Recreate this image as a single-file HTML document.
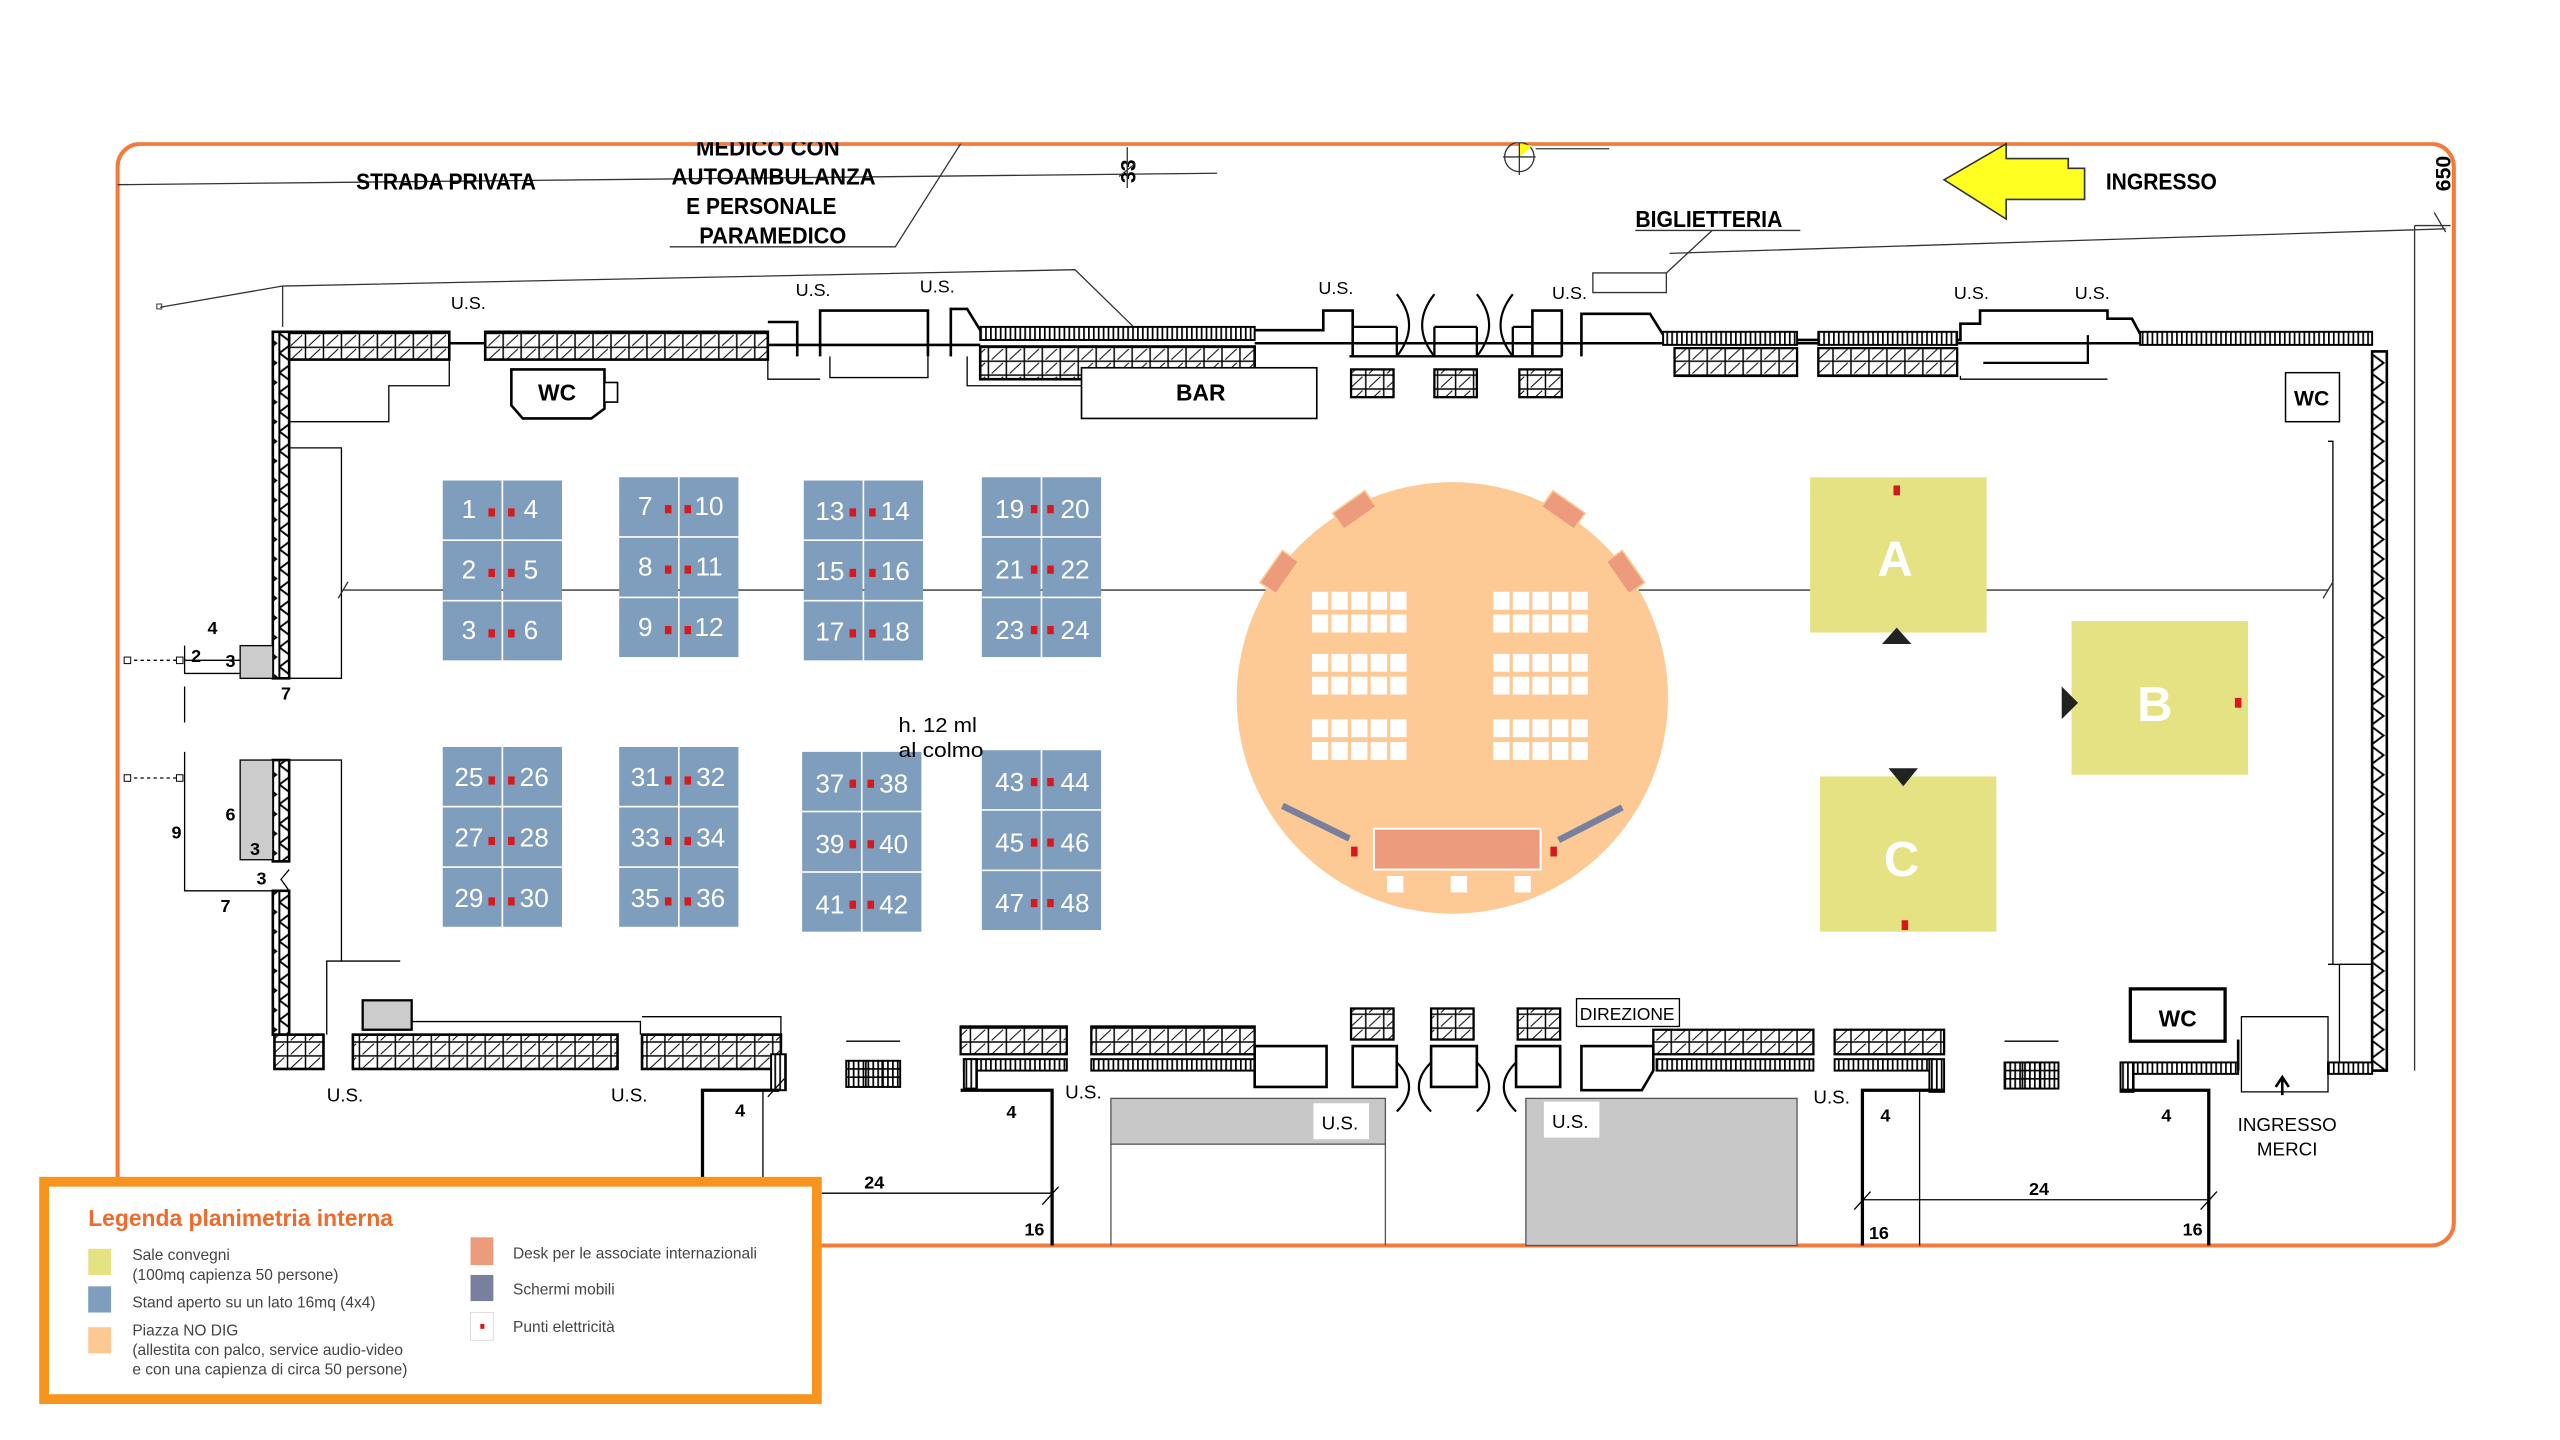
<!DOCTYPE html>
<html><head><meta charset="utf-8"><style>
html,body{margin:0;padding:0;background:#fff;width:2560px;height:1440px;overflow:hidden}
svg{display:block}
.t{font-family:"Liberation Sans",sans-serif;fill:#000}
.b{font-weight:bold}
.lg{font-family:"Liberation Sans",sans-serif;fill:#444;font-size:9.5px}
</style></head><body>
<svg width="2560" height="1440" viewBox="0 0 1567 881" preserveAspectRatio="none" xmlns="http://www.w3.org/2000/svg">
<defs>
<pattern id="h" width="11" height="8.5" patternUnits="userSpaceOnUse"><rect width="11" height="8.5" fill="#fff" stroke="#000" stroke-width="0.9"/><path d="M2 7.5L9 1" stroke="#000" stroke-width="0.6"/></pattern>
<pattern id="v" width="10" height="12" patternUnits="userSpaceOnUse"><rect width="10" height="12" fill="#fff"/><path d="M1 0L9 6L1 12M1 0V12" stroke="#000" stroke-width="1.2" fill="none"/></pattern>
<pattern id="c" width="3" height="10" patternUnits="userSpaceOnUse"><rect width="3" height="10" fill="#fff"/><path d="M0.5 0V10" stroke="#000" stroke-width="1.1"/></pattern>
<pattern id="s" width="12" height="14" patternUnits="userSpaceOnUse"><rect width="10" height="11" fill="#fff"/></pattern>
</defs>

<rect x="72" y="88" width="1430" height="674" rx="14" fill="none" stroke="#f47a3c" stroke-width="2.5"/>

<path d="M72 113L745 106" stroke="#333" stroke-width="0.8"/>
<text class="t b" x="218" y="116" font-size="14" textLength="110" lengthAdjust="spacingAndGlyphs">STRADA PRIVATA</text>
<text class="t b" x="426" y="95" font-size="14" textLength="88" lengthAdjust="spacingAndGlyphs">MEDICO CON</text>
<text class="t b" x="411" y="113" font-size="14" textLength="125" lengthAdjust="spacingAndGlyphs">AUTOAMBULANZA</text>
<text class="t b" x="420" y="131" font-size="14" textLength="92" lengthAdjust="spacingAndGlyphs">E PERSONALE</text>
<text class="t b" x="428" y="149" font-size="14" textLength="90" lengthAdjust="spacingAndGlyphs">PARAMEDICO</text>
<path d="M410 151H548L588 88" stroke="#333" stroke-width="0.8" fill="none"/>
<text class="t b" x="0" y="0" font-size="13" transform="translate(695,112) rotate(-90)">33</text>
<path d="M690 90V115M685 108L695 100" stroke="#333" stroke-width="0.8"/>
<circle cx="930" cy="96" r="9" fill="none" stroke="#333" stroke-width="0.8"/>
<path d="M930 96L938 89L930 88Z" fill="#ff0"/>
<path d="M920 96H940M930 86V107M940 91H985" stroke="#333" stroke-width="0.8"/>
<rect x="72" y="84" width="1430" height="3" fill="#fff"/>
<text class="t b" x="1001" y="139" font-size="14" textLength="90" lengthAdjust="spacingAndGlyphs">BIGLIETTERIA</text>
<path d="M1001 141H1102M1048 141L1020 167M975 167H1020V179H975Z" stroke="#333" stroke-width="0.8" fill="none"/>
<path d="M1190 110L1228 88V97H1266V103H1276V122H1228V134Z" fill="#ffff22" stroke="#333" stroke-width="1"/>
<text class="t b" x="1289" y="116" font-size="14" textLength="68" lengthAdjust="spacingAndGlyphs">INGRESSO</text>
<text class="t b" x="0" y="0" font-size="13" transform="translate(1500,117) rotate(-90)">650</text>
<path d="M1022 155L1497 140M1478 138V655M1478 138H1500M1490 130L1497 142" stroke="#333" stroke-width="0.8" fill="none"/>

<path d="M98 188L173 175L658 165L697 203M173 175V200" stroke="#333" stroke-width="0.8" fill="none"/>
<rect x="96" y="186" width="3" height="3" fill="none" stroke="#333" stroke-width="0.6"/>

<!-- top wall -->
<g stroke="#000" fill="none" stroke-width="1.6">
<path d="M470 197H488V218M502 218V190H568V218M582 218V189H592L600 202H810V190H828V218M938 218V190H956V218M968 218V192H1010L1020 208H1200V198H1212V190H1290V195H1305L1312 208H1452"/>
<path d="M275 210H297M470 211H600M768 210H1025M1100 210H1113M1198 210H1310"/>
<path d="M828 200H855M878 200H904M926 200H938M855 218V200M878 218V200M904 218V200M926 218V200M826 218H956M1214 222H1278V205" stroke-width="1.4"/>
<path d="M855 180Q870 199 855 218M878 180Q863 199 878 218M904 180Q919 199 904 218M926 180Q911 199 926 218" stroke-width="1.3"/>
</g>
<rect x="168" y="203" width="107" height="17" fill="url(#h)" stroke="#000" stroke-width="1.6"/>
<rect x="297" y="203" width="173" height="17" fill="url(#h)" stroke="#000" stroke-width="1.6"/>
<rect x="600" y="200" width="168" height="8" fill="url(#c)" stroke="#000" stroke-width="1.2"/>
<rect x="600" y="212" width="168" height="20" fill="url(#h)" stroke="#000" stroke-width="1.6"/>
<rect x="1018" y="203" width="82" height="8" fill="url(#c)" stroke="#000" stroke-width="1.2"/>
<rect x="1025" y="213" width="75" height="17" fill="url(#h)" stroke="#000" stroke-width="1.4"/>
<rect x="1113" y="203" width="85" height="8" fill="url(#c)" stroke="#000" stroke-width="1.2"/>
<rect x="1113" y="213" width="85" height="17" fill="url(#h)" stroke="#000" stroke-width="1.4"/>
<rect x="1310" y="203" width="142" height="8" fill="url(#c)" stroke="#000" stroke-width="1.2"/>
<rect x="827" y="226" width="26" height="17" fill="url(#h)" stroke="#000" stroke-width="1.4"/>
<rect x="878" y="226" width="26" height="17" fill="url(#h)" stroke="#000" stroke-width="1.4"/>
<rect x="930" y="226" width="26" height="17" fill="url(#h)" stroke="#000" stroke-width="1.4"/>
<path d="M177 220V258H238V236H275V220M470 220V232H502M508 218V231H568V218M592 218V236H662M1200 230V232H1290" stroke="#000" stroke-width="0.8" fill="none"/>
<path d="M313 226H370V250L362 256H320L313 248Z" fill="#fff" stroke="#000" stroke-width="1.6"/>
<rect x="370" y="234" width="8" height="12" fill="#fff" stroke="#000" stroke-width="1"/>
<text class="t b" x="341" y="245" font-size="14" text-anchor="middle">WC</text>
<rect x="662" y="225" width="144" height="31" fill="#fff" stroke="#000" stroke-width="1"/>
<text class="t b" x="735" y="245" font-size="14" text-anchor="middle">BAR</text>
<rect x="1399" y="228" width="33" height="30" fill="#fff" stroke="#000" stroke-width="0.9"/>
<text class="t b" x="1415" y="248" font-size="13" text-anchor="middle">WC</text>
<g class="t" font-size="11">
<text x="276" y="189">U.S.</text><text x="487" y="181">U.S.</text><text x="563" y="179">U.S.</text>
<text x="807" y="180">U.S.</text><text x="950" y="183">U.S.</text><text x="1196" y="183">U.S.</text><text x="1270" y="183">U.S.</text>
</g>

<!-- left wall -->
<rect x="167" y="203" width="10" height="212" fill="url(#v)" stroke="#000" stroke-width="1.6"/>
<rect x="167" y="465" width="10" height="62" fill="url(#v)" stroke="#000" stroke-width="1.6"/>
<rect x="167" y="545" width="10" height="88" fill="url(#v)" stroke="#000" stroke-width="1.6"/>
<path d="M177 274H209V415H177M177 465H209V588H200V633M209 588H245M113 404V412H147M113 420V442M113 460V545H167M147 415H177" stroke="#000" stroke-width="0.8" fill="none"/>
<path d="M113 395V404H147V395M177 532L172 538L177 545" stroke="#000" stroke-width="0.8" fill="none"/>
<path d="M78 404H110M78 476H110" stroke="#000" stroke-width="0.8" stroke-dasharray="2 2"/>
<rect x="76" y="402" width="4" height="4" fill="#fff" stroke="#000" stroke-width="0.6"/><rect x="108" y="402" width="4" height="4" fill="#fff" stroke="#000" stroke-width="0.6"/>
<rect x="76" y="474" width="4" height="4" fill="#fff" stroke="#000" stroke-width="0.6"/><rect x="108" y="474" width="4" height="4" fill="#fff" stroke="#000" stroke-width="0.6"/>
<rect x="147" y="395" width="20" height="20" fill="#ccc" stroke="#000" stroke-width="0.8"/>
<rect x="147" y="465" width="20" height="61" fill="#ccc" stroke="#000" stroke-width="0.8"/>
<rect x="222" y="612" width="30" height="18" fill="#ccc" stroke="#000" stroke-width="1.4"/>
<g class="t b" font-size="11">
<text x="127" y="388">4</text><text x="117" y="405">2</text><text x="138" y="408">3</text><text x="172" y="428">7</text>
<text x="138" y="502">6</text><text x="105" y="513">9</text><text x="153" y="523">3</text><text x="157" y="541">3</text><text x="135" y="558">7</text>
</g>

<!-- right wall -->
<rect x="1452" y="215" width="9" height="440" fill="url(#v)" stroke="#000" stroke-width="1.6"/>
<path d="M1425 270H1428V590H1425M1432 655V590H1452" stroke="#000" stroke-width="0.8" fill="none"/>

<path d="M210 361H1425" stroke="#333" stroke-width="0.9"/>
<path d="M207 366L213 356M1422 366L1428 356" stroke="#333" stroke-width="0.8"/>

<!-- bottom wall -->
<rect x="168" y="633" width="30" height="21" fill="url(#h)" stroke="#000" stroke-width="1.6"/>
<rect x="216" y="633" width="162" height="21" fill="url(#h)" stroke="#000" stroke-width="1.6"/>
<rect x="393" y="633" width="85" height="21" fill="url(#h)" stroke="#000" stroke-width="1.6"/>
<rect x="472" y="645" width="9" height="22" fill="url(#c)" stroke="#000" stroke-width="1.2"/>
<rect x="588" y="628" width="65" height="17" fill="url(#h)" stroke="#000" stroke-width="1.4"/>
<rect x="590" y="648" width="63" height="7" fill="url(#c)" stroke="#000" stroke-width="1.2"/>
<rect x="590" y="648" width="8" height="18" fill="url(#c)" stroke="#000" stroke-width="1.2"/>
<rect x="668" y="628" width="100" height="17" fill="url(#h)" stroke="#000" stroke-width="1.4"/>
<rect x="668" y="648" width="100" height="7" fill="url(#c)" stroke="#000" stroke-width="1.2"/>
<rect x="1012" y="630" width="98" height="15" fill="url(#h)" stroke="#000" stroke-width="1.4"/>
<rect x="1014" y="648" width="96" height="7" fill="url(#c)" stroke="#000" stroke-width="1.2"/>
<rect x="1123" y="630" width="67" height="15" fill="url(#h)" stroke="#000" stroke-width="1.4"/>
<rect x="1123" y="648" width="60" height="7" fill="url(#c)" stroke="#000" stroke-width="1.2"/>
<rect x="1181" y="648" width="9" height="20" fill="url(#c)" stroke="#000" stroke-width="1.2"/>
<rect x="1298" y="650" width="72" height="7" fill="url(#c)" stroke="#000" stroke-width="1.2"/>
<rect x="1298" y="650" width="8" height="18" fill="url(#c)" stroke="#000" stroke-width="1.2"/>
<rect x="1425" y="650" width="27" height="7" fill="url(#c)" stroke="#000" stroke-width="1.2"/>
<rect x="518" y="649" width="33" height="16" fill="url(#c)" stroke="#000" stroke-width="1.2"/>
<path d="M518 654H551M518 659H551M530 649V665M540 649V665" stroke="#000" stroke-width="1"/>
<rect x="1227" y="650" width="33" height="16" fill="url(#c)" stroke="#000" stroke-width="1.2"/>
<path d="M1227 655H1260M1227 660H1260M1238 650V666M1249 650V666" stroke="#000" stroke-width="1"/>
<path d="M518 637H551M1227 637H1260M252 625H392V633M393 622H478V640" stroke="#000" stroke-width="0.8" fill="none"/>
<g stroke="#000" fill="none" stroke-width="1.6">
<path d="M768 640H812V665H768Z M828 640H855V665H828Z M876 640H904V665H876Z M928 640H955V665H928Z M968 640H1012V655L1005 667H968Z"/>
<path d="M855 650Q870 665 855 680M876 650Q861 665 876 680M904 650Q919 665 904 680M928 650Q913 665 928 680" stroke-width="1.3"/>
<path d="M1370 636V655"/>
</g>
<rect x="827" y="617" width="26" height="19" fill="url(#h)" stroke="#000" stroke-width="1.4"/>
<rect x="876" y="617" width="26" height="19" fill="url(#h)" stroke="#000" stroke-width="1.4"/>
<rect x="929" y="617" width="26" height="19" fill="url(#h)" stroke="#000" stroke-width="1.4"/>
<rect x="965" y="611" width="63" height="17" fill="#fff" stroke="#000" stroke-width="0.8"/>
<text class="t" x="996" y="624" font-size="10.5" text-anchor="middle" textLength="58" lengthAdjust="spacingAndGlyphs">DIREZIONE</text>
<rect x="1304" y="605" width="58" height="32" fill="#fff" stroke="#000" stroke-width="2"/>
<text class="t b" x="1333" y="628" font-size="14" text-anchor="middle">WC</text>
<path d="M1372 622H1425V668H1372Z M1425 590H1452" fill="none" stroke="#000" stroke-width="0.8"/>
<path d="M1397 670V660M1393 665L1397 659L1401 665" stroke="#000" stroke-width="1.6" fill="none"/>
<text class="t" x="1400" y="692" font-size="11.5" text-anchor="middle">INGRESSO</text>
<text class="t" x="1400" y="707" font-size="11.5" text-anchor="middle">MERCI</text>

<path d="M430 762V667H477" stroke="#000" stroke-width="2" fill="none"/>
<path d="M467 667V762" stroke="#000" stroke-width="0.8"/>
<path d="M588 667H644V762" stroke="#000" stroke-width="2" fill="none"/>
<path d="M503 730H644M470 671L480 660M638 737L648 726" stroke="#000" stroke-width="0.8" fill="none"/>
<path d="M1140 762V667H1190M1298 667H1352V762" stroke="#000" stroke-width="2" fill="none"/>
<path d="M1175 667V762M1140 734H1352M1135 740L1145 729M1347 740L1357 729" stroke="#000" stroke-width="0.8" fill="none"/>
<rect x="680" y="672" width="168" height="28" fill="#c8c8c8" stroke="#555" stroke-width="0.8"/>
<path d="M680 700V762M848 700V762" stroke="#555" stroke-width="0.8"/>
<rect x="934" y="672" width="166" height="90" fill="#c8c8c8" stroke="#555" stroke-width="0.8"/>
<rect x="804" y="675" width="34" height="22" fill="#fff"/>
<rect x="945" y="674" width="34" height="22" fill="#fff"/>
<g class="t" font-size="11.5">
<text x="809" y="691">U.S.</text><text x="950" y="690">U.S.</text>
<text x="200" y="674">U.S.</text><text x="374" y="674">U.S.</text><text x="652" y="672">U.S.</text><text x="1110" y="675">U.S.</text>
</g>
<g class="t b" font-size="11">
<text x="450" y="683">4</text><text x="616" y="684">4</text><text x="1151" y="686">4</text><text x="1323" y="686">4</text>
<text x="529" y="727">24</text><text x="1242" y="731">24</text>
<text x="627" y="756">16</text><text x="1144" y="758">16</text><text x="1336" y="756">16</text>
</g>

<!-- stands -->
<g font-family="Liberation Sans, sans-serif" font-size="16" fill="#fff" text-anchor="middle">
<g transform="translate(271,294)">
<rect width="36" height="36" fill="#7f9dbd"/><rect x="37" width="36" height="36" fill="#7f9dbd"/><rect y="37" width="36" height="36" fill="#7f9dbd"/><rect x="37" y="37" width="36" height="36" fill="#7f9dbd"/><rect y="74" width="36" height="36" fill="#7f9dbd"/><rect x="37" y="74" width="36" height="36" fill="#7f9dbd"/>
<g fill="#d7191c"><rect x="28" y="17" width="4" height="5"/><rect x="40" y="17" width="4" height="5"/><rect x="28" y="54" width="4" height="5"/><rect x="40" y="54" width="4" height="5"/><rect x="28" y="91" width="4" height="5"/><rect x="40" y="91" width="4" height="5"/></g>
<text x="16" y="23">1</text><text x="54" y="23">4</text><text x="16" y="60">2</text><text x="54" y="60">5</text><text x="16" y="97">3</text><text x="54" y="97">6</text></g>
<g transform="translate(379,292)">
<rect width="36" height="36" fill="#7f9dbd"/><rect x="37" width="36" height="36" fill="#7f9dbd"/><rect y="37" width="36" height="36" fill="#7f9dbd"/><rect x="37" y="37" width="36" height="36" fill="#7f9dbd"/><rect y="74" width="36" height="36" fill="#7f9dbd"/><rect x="37" y="74" width="36" height="36" fill="#7f9dbd"/>
<g fill="#d7191c"><rect x="28" y="17" width="4" height="5"/><rect x="40" y="17" width="4" height="5"/><rect x="28" y="54" width="4" height="5"/><rect x="40" y="54" width="4" height="5"/><rect x="28" y="91" width="4" height="5"/><rect x="40" y="91" width="4" height="5"/></g>
<text x="16" y="23">7</text><text x="55" y="23">10</text><text x="16" y="60">8</text><text x="55" y="60">11</text><text x="16" y="97">9</text><text x="55" y="97">12</text></g>
<g transform="translate(492,294)">
<rect width="36" height="36" fill="#7f9dbd"/><rect x="37" width="36" height="36" fill="#7f9dbd"/><rect y="37" width="36" height="36" fill="#7f9dbd"/><rect x="37" y="37" width="36" height="36" fill="#7f9dbd"/><rect y="74" width="36" height="36" fill="#7f9dbd"/><rect x="37" y="74" width="36" height="36" fill="#7f9dbd"/>
<g fill="#d7191c"><rect x="28" y="17" width="4" height="5"/><rect x="40" y="17" width="4" height="5"/><rect x="28" y="54" width="4" height="5"/><rect x="40" y="54" width="4" height="5"/><rect x="28" y="91" width="4" height="5"/><rect x="40" y="91" width="4" height="5"/></g>
<text x="16" y="24">13</text><text x="56" y="24">14</text><text x="16" y="61">15</text><text x="56" y="61">16</text><text x="16" y="98">17</text><text x="56" y="98">18</text></g>
<g transform="translate(601,292)">
<rect width="36" height="36" fill="#7f9dbd"/><rect x="37" width="36" height="36" fill="#7f9dbd"/><rect y="37" width="36" height="36" fill="#7f9dbd"/><rect x="37" y="37" width="36" height="36" fill="#7f9dbd"/><rect y="74" width="36" height="36" fill="#7f9dbd"/><rect x="37" y="74" width="36" height="36" fill="#7f9dbd"/>
<g fill="#d7191c"><rect x="30" y="17" width="4" height="5"/><rect x="40" y="17" width="4" height="5"/><rect x="30" y="54" width="4" height="5"/><rect x="40" y="54" width="4" height="5"/><rect x="30" y="91" width="4" height="5"/><rect x="40" y="91" width="4" height="5"/></g>
<text x="17" y="25">19</text><text x="57" y="25">20</text><text x="17" y="62">21</text><text x="57" y="62">22</text><text x="17" y="99">23</text><text x="57" y="99">24</text></g>
<g transform="translate(271,457)">
<rect width="36" height="36" fill="#7f9dbd"/><rect x="37" width="36" height="36" fill="#7f9dbd"/><rect y="37" width="36" height="36" fill="#7f9dbd"/><rect x="37" y="37" width="36" height="36" fill="#7f9dbd"/><rect y="74" width="36" height="36" fill="#7f9dbd"/><rect x="37" y="74" width="36" height="36" fill="#7f9dbd"/>
<g fill="#d7191c"><rect x="28" y="18" width="4" height="5"/><rect x="40" y="18" width="4" height="5"/><rect x="28" y="55" width="4" height="5"/><rect x="40" y="55" width="4" height="5"/><rect x="28" y="92" width="4" height="5"/><rect x="40" y="92" width="4" height="5"/></g>
<text x="16" y="24">25</text><text x="56" y="24">26</text><text x="16" y="61">27</text><text x="56" y="61">28</text><text x="16" y="98">29</text><text x="56" y="98">30</text></g>
<g transform="translate(379,457)">
<rect width="36" height="36" fill="#7f9dbd"/><rect x="37" width="36" height="36" fill="#7f9dbd"/><rect y="37" width="36" height="36" fill="#7f9dbd"/><rect x="37" y="37" width="36" height="36" fill="#7f9dbd"/><rect y="74" width="36" height="36" fill="#7f9dbd"/><rect x="37" y="74" width="36" height="36" fill="#7f9dbd"/>
<g fill="#d7191c"><rect x="28" y="18" width="4" height="5"/><rect x="40" y="18" width="4" height="5"/><rect x="28" y="55" width="4" height="5"/><rect x="40" y="55" width="4" height="5"/><rect x="28" y="92" width="4" height="5"/><rect x="40" y="92" width="4" height="5"/></g>
<text x="16" y="24">31</text><text x="56" y="24">32</text><text x="16" y="61">33</text><text x="56" y="61">34</text><text x="16" y="98">35</text><text x="56" y="98">36</text></g>
<g transform="translate(491,460)">
<rect width="36" height="36" fill="#7f9dbd"/><rect x="37" width="36" height="36" fill="#7f9dbd"/><rect y="37" width="36" height="36" fill="#7f9dbd"/><rect x="37" y="37" width="36" height="36" fill="#7f9dbd"/><rect y="74" width="36" height="36" fill="#7f9dbd"/><rect x="37" y="74" width="36" height="36" fill="#7f9dbd"/>
<g fill="#d7191c"><rect x="29" y="17" width="4" height="5"/><rect x="40" y="17" width="4" height="5"/><rect x="29" y="54" width="4" height="5"/><rect x="40" y="54" width="4" height="5"/><rect x="29" y="91" width="4" height="5"/><rect x="40" y="91" width="4" height="5"/></g>
<text x="17" y="25">37</text><text x="56" y="25">38</text><text x="17" y="62">39</text><text x="56" y="62">40</text><text x="17" y="99">41</text><text x="56" y="99">42</text></g>
<g transform="translate(601,459)">
<rect width="36" height="36" fill="#7f9dbd"/><rect x="37" width="36" height="36" fill="#7f9dbd"/><rect y="37" width="36" height="36" fill="#7f9dbd"/><rect x="37" y="37" width="36" height="36" fill="#7f9dbd"/><rect y="74" width="36" height="36" fill="#7f9dbd"/><rect x="37" y="74" width="36" height="36" fill="#7f9dbd"/>
<g fill="#d7191c"><rect x="30" y="17" width="4" height="5"/><rect x="40" y="17" width="4" height="5"/><rect x="30" y="54" width="4" height="5"/><rect x="40" y="54" width="4" height="5"/><rect x="30" y="91" width="4" height="5"/><rect x="40" y="91" width="4" height="5"/></g>
<text x="17" y="25">43</text><text x="57" y="25">44</text><text x="17" y="62">45</text><text x="57" y="62">46</text><text x="17" y="99">47</text><text x="57" y="99">48</text></g>
</g>
<text class="t" x="550" y="448" font-size="12.5" textLength="48" lengthAdjust="spacingAndGlyphs">h. 12 ml</text>
<text class="t" x="550" y="463" font-size="12.5" textLength="52" lengthAdjust="spacingAndGlyphs">al colmo</text>

<!-- piazza -->
<ellipse cx="889" cy="427" rx="132" ry="132" fill="#fdca95"/>
<g fill="#ec9b7d" stroke="#fdca95" stroke-width="1">
<rect x="-12" y="-6" width="24" height="12" transform="translate(829,312) rotate(-35)"/>
<rect x="-12" y="-6" width="24" height="12" transform="translate(957,312) rotate(35)"/>
<rect x="-12" y="-6" width="24" height="12" transform="translate(783,350) rotate(-55)"/>
<rect x="-12" y="-6" width="24" height="12" transform="translate(995,350) rotate(55)"/>
</g>
<g transform="translate(803,362)"><rect width="58" height="25" fill="url(#s)"/></g>
<g transform="translate(803,400)"><rect width="58" height="25" fill="url(#s)"/></g>
<g transform="translate(803,440)"><rect width="58" height="25" fill="url(#s)"/></g>
<g transform="translate(914,362)"><rect width="58" height="25" fill="url(#s)"/></g>
<g transform="translate(914,400)"><rect width="58" height="25" fill="url(#s)"/></g>
<g transform="translate(914,440)"><rect width="58" height="25" fill="url(#s)"/></g>
<path d="M785 493L826 513M954 514L993 494" stroke="#78809e" stroke-width="4"/>
<rect x="841" y="507" width="102" height="25" fill="#ec9b7d" stroke="#fff" stroke-width="1.2"/>
<rect x="849" y="536" width="10" height="10" fill="#fff"/><rect x="888" y="536" width="10" height="10" fill="#fff"/><rect x="927" y="536" width="10" height="10" fill="#fff"/>
<rect x="827" y="518" width="4" height="6" fill="#d7191c"/><rect x="949" y="518" width="4" height="6" fill="#d7191c"/>

<!-- sale -->
<rect x="1108" y="292" width="108" height="95" fill="#e5e283"/>
<rect x="1268" y="380" width="108" height="94" fill="#e5e283"/>
<rect x="1114" y="475" width="108" height="95" fill="#e5e283"/>
<g font-family="Liberation Sans, sans-serif" font-weight="bold" font-size="30" fill="#fff" text-anchor="middle">
<text x="1160" y="352">A</text><text x="1319" y="441">B</text><text x="1164" y="536">C</text></g>
<rect x="1159" y="297" width="4" height="6" fill="#d7191c"/>
<rect x="1368" y="427" width="4" height="6" fill="#d7191c"/>
<rect x="1164" y="563" width="4" height="6" fill="#d7191c"/>
<path d="M1152 394L1161 384L1170 394Z M1262 420L1272 430L1262 440Z M1156 470L1174 470L1165 481Z" fill="#222"/>

<!-- legend -->
<rect x="27" y="723" width="473" height="133" fill="#fff" stroke="#f7941d" stroke-width="6"/>
<text x="54" y="750" font-family="Liberation Sans, sans-serif" font-weight="bold" font-size="14" fill="#f26a2a">Legenda planimetria interna</text>
<rect x="54" y="764" width="14" height="16" fill="#e5e283"/>
<rect x="54" y="787" width="14" height="16" fill="#7f9dbd"/>
<rect x="54" y="812" width="14" height="16" fill="#fdc993"/>
<text class="lg" x="81" y="771">Sale convegni</text>
<text class="lg" x="81" y="783">(100mq capienza 50 persone)</text>
<text class="lg" x="81" y="800">Stand aperto su un lato 16mq (4x4)</text>
<text class="lg" x="81" y="817">Piazza NO DIG</text>
<text class="lg" x="81" y="829">(allestita con palco, service audio-video</text>
<text class="lg" x="81" y="841">e con una capienza di circa 50 persone)</text>
<rect x="288" y="757" width="14" height="17" fill="#ec9b7d"/>
<rect x="288" y="780" width="14" height="16" fill="#78809e"/>
<rect x="288" y="803" width="14" height="17" fill="#fff" stroke="#ddd" stroke-width="0.6"/>
<rect x="294" y="810" width="2.5" height="3" fill="#d7191c"/>
<text class="lg" x="314" y="770">Desk per le associate internazionali</text>
<text class="lg" x="314" y="792">Schermi mobili</text>
<text class="lg" x="314" y="815">Punti elettricità</text>
</svg>
</body></html>
